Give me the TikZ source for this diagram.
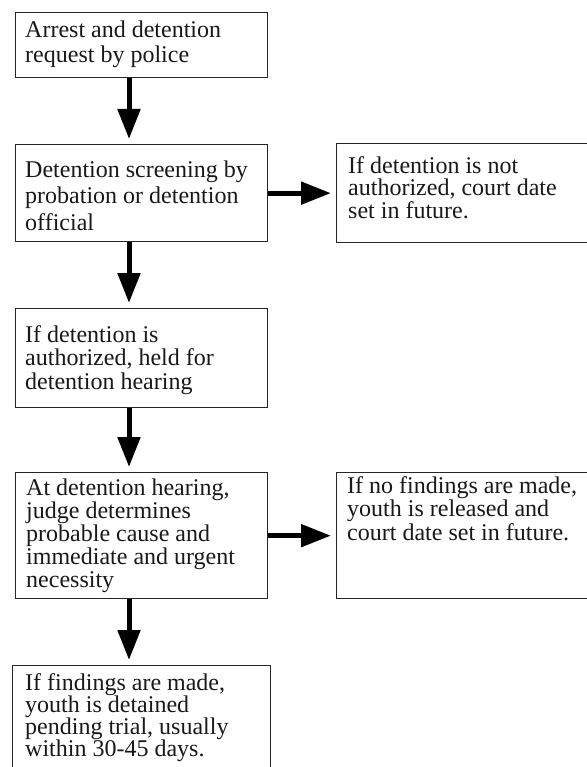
\documentclass[tikz,border=0pt]{standalone}
\usepackage{fontspec}
\setmainfont{Liberation Serif}
\usetikzlibrary{arrows.meta}
\tikzset{
  box/.style={draw=black!85, line width=1.3pt, anchor=north west, inner sep=0pt, fill=white},
  txt/.style={anchor=north west, inner sep=0pt, align=left, text=black!90},
  flow/.style={line width=5pt, -{Triangle[width=22pt,length=30pt]}, shorten >=5pt}
}
\newcommand{\fs}[1]{\fontsize{24}{#1}\selectfont}
\newcommand{\tl}{\rule{0pt}{17pt}}
\begin{document}
\begin{tikzpicture}[x=1pt,y=-1pt]
\useasboundingbox (0,0) rectangle (586,767);
% boxes
\node[box, minimum width=252pt, minimum height=65pt] (b1) at (15,12) {};
\node[box, minimum width=252pt, minimum height=97pt] (b2) at (15,144) {};
\node[box, minimum width=252pt, minimum height=99pt] (b3) at (15,308) {};
\node[box, minimum width=252pt, minimum height=126pt] (b4) at (15,472) {};
\node[box, minimum width=258pt, minimum height=130pt] (b5) at (12,665) {};
\node[box, minimum width=262pt, minimum height=99pt] (r1) at (336,143) {};
\node[box, minimum width=262pt, minimum height=126pt] (r2) at (336,472) {};
% texts
\node[txt, font=\fs{25}] (t1) at (25,20) {\tl Arrest and detention\\request by police};
\node[txt, font=\fs{26.5}] (t2) at (25,160) {\tl Detention screening by\\probation or detention\\official};
\node[txt, font=\fs{23.5}] (t3) at (25,325) {\tl If detention is\\authorized, held for\\detention hearing};
\node[txt, font=\fs{23}] (t4) at (26,478) {\tl At detention hearing,\\judge determines\\probable cause and\\immediate and urgent\\necessity};
\node[txt, font=\fs{22.2}] (t5) at (25,673) {\tl If findings are made,\\youth is detained\\pending trial, usually\\within 30-45 days.};
\node[txt, font=\fs{22.5}] (tr1) at (348,156) {\tl If detention is not\\authorized, court date\\set in future.};
\node[txt, font=\fs{23.5}] (tr2) at (347,476) {\tl If no findings are made,\\youth is released and\\court date set in future.};
% arrows
\coordinate (ax) at (129,0);
\draw[flow] (b1.south -| ax) -- (b2.north -| ax);
\draw[flow] (b2.south -| ax) -- (b3.north -| ax);
\draw[flow] (b3.south -| ax) -- (b4.north -| ax);
\draw[flow] (b4.south -| ax) -- (b5.north -| ax);
\draw[flow] (b2.east) -- (r1.west |- b2.east);
\draw[flow] (b4.east) -- (r2.west |- b4.east);
\end{tikzpicture}
\end{document}
